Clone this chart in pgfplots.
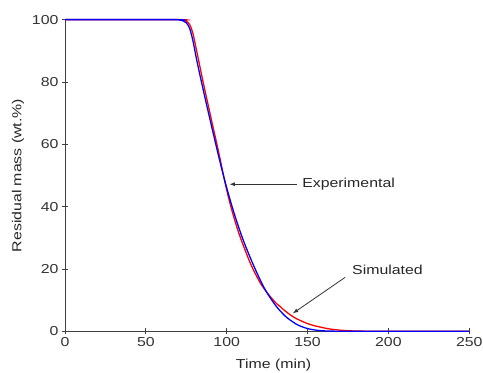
\documentclass[border=0pt]{standalone}
\usepackage{pgfplots}
\pgfplotsset{compat=1.18}
\usepackage{fontspec}
\setmainfont{Liberation Sans}[FakeStretch=1.22]
\begin{document}
\begin{tikzpicture}[font=\fontsize{13bp}{15bp}\selectfont]
\begin{axis}[
  scale only axis, width=404bp, height=311.5bp,
  xmin=0, xmax=250, ymin=0, ymax=100,
  axis x line=bottom, axis y line=left,
  axis line style={black!75, line width=0.9pt, -},
  xtick={0,50,...,250}, ytick={0,20,...,100},
  tick align=center, major tick length=6bp,
  tick style={black!75, line width=0.8pt},
  ticklabel style={text=black!80},
  /pgf/number format/assume math mode=true,
  xlabel={Time (min)}, ylabel={Residual mass (wt.\%)},
  xlabel style={at={(axis description cs:0.516,-0.109)}, anchor=center, text=black!85},
  ylabel style={at={(axis description cs:-0.116,0.5)}, anchor=center, text=black!85},
  clip=false,
]
\addplot[red, line width=1.3pt, smooth, tension=0.5] coordinates {
(0,100)(70,100)(73,99.85)(75,99.5)(77,98.5)(79,95.8)(81,91)(83,86)(85,81)(87,76.2)(89,71.5)(91,66.8)(93,62.2)(95,57.5)(97,52.6)(99,47.6)(101,43.2)(103,39.2)(105,35.6)(107,32.3)(109,29.3)(111,26.6)(113,23.9)(115,21.4)(117,19.2)(119,17.2)(121,15.3)(123,13.8)(125,12.4)(127,11.1)(129,9.9)(131,8.8)(133,8.0)(135,7.0)(137,6.2)(139,5.4)(141,4.7)(143,4.1)(145,3.6)(148,2.9)(151,2.3)(155,1.7)(158,1.35)(162,0.9)(166,0.6)(170,0.38)(175,0.2)(180,0.1)(190,0.02)(200,0)(250,0)};
\addplot[blue, line width=1.3pt, smooth, tension=0.5] coordinates {
(0,100)(68,100)(71,99.85)(73,99.6)(75,99)(77,97.3)(79,93.5)(81,88.2)(83,83.3)(85,78.6)(87,74)(89,69.5)(91,65)(93,60.6)(95,56.2)(97,52)(99,48)(101,44.2)(103,40.6)(105,37.2)(107,34)(109,31)(111,28.2)(113,25.6)(115,23.1)(117,20.7)(119,18.4)(121,16.2)(123,14.1)(125,12.3)(127,10.7)(129,9.2)(131,7.8)(133,6.6)(135,5.5)(137,4.5)(139,3.7)(141,3.0)(143,2.3)(145,1.8)(148,1.2)(151,0.75)(155,0.4)(160,0.15)(170,0.03)(180,0)(250,0)};
\draw[-latex, black!80, line width=0.8pt] (axis cs:143.5,47.2) -- (axis cs:101.8,47.2);
\node[anchor=west, text=black!85, inner sep=0pt] at (axis cs:146.6,47.2) {Experimental};
\draw[-latex, black!80, line width=0.8pt] (axis cs:173.2,17.3) -- (axis cs:141,5.8);
\node[anchor=west, text=black!85, inner sep=0pt] at (axis cs:177.5,19.6) {Simulated};
\coordinate (bl) at (axis cs:-40.2,-13.2);
\coordinate (tr) at (axis cs:258.5,106.3);
\end{axis}
\pgfresetboundingbox
\path[use as bounding box] (bl) rectangle (tr);
\end{tikzpicture}
\end{document}
